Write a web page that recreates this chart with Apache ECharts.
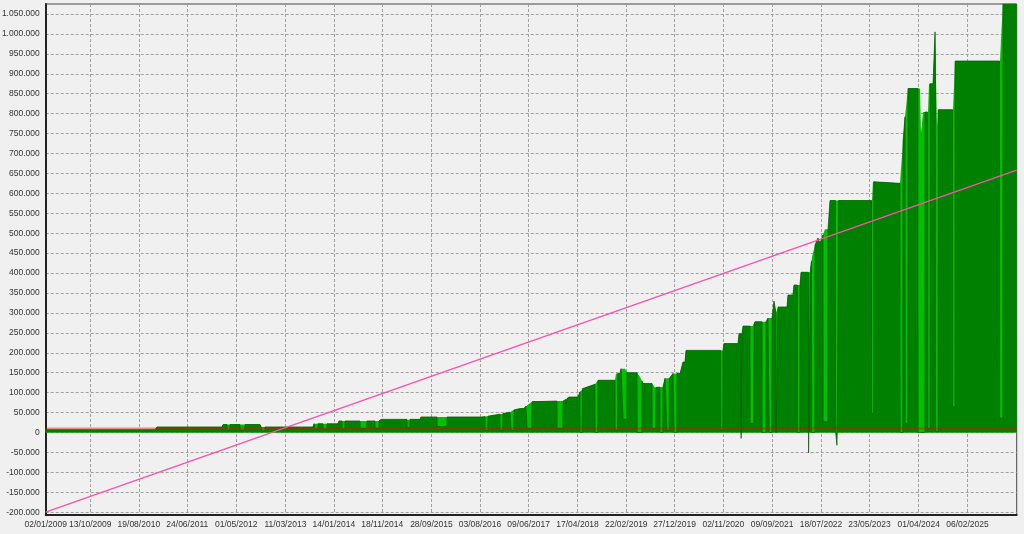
<!DOCTYPE html>
<html><head><meta charset="utf-8">
<script src="https://cdn.jsdelivr.net/npm/echarts@6/dist/echarts.min.js"></script>
<style>html,body{margin:0;padding:0;background:#f0f0f0}#c{width:1024px;height:534px}</style>
</head><body><div id="c"></div>
<script>
// X tick labels (dates)
const xTickLabels = ['02/01/2009','13/10/2009','19/08/2010','24/06/2011','01/05/2012','11/03/2013','14/01/2014','18/11/2014','28/09/2015','03/08/2016','09/06/2017','17/04/2018','22/02/2019','27/12/2019','02/11/2020','09/09/2021','18/07/2022','23/05/2023','01/04/2024','06/02/2025'];
// Y tick values
const yTicks = [-200000,-150000,-100000,-50000,0,50000,100000,150000,200000,250000,300000,350000,400000,450000,500000,550000,600000,650000,700000,750000,800000,850000,900000,950000,1000000,1050000];
const xStart = 2009.0, xEnd = 2025.955;
// Balance (closed) curve: time in decimal years, value
const balanceT = [2009.000,2010.909,2010.943,2012.078,2012.096,2012.742,2012.760,2013.667,2013.685,2014.104,2014.121,2014.837,2014.855,2015.536,2015.553,2016.618,2016.933,2017.107,2017.160,2017.282,2017.351,2017.386,2017.509,2018.051,2018.138,2018.295,2018.329,2018.417,2018.591,2018.644,2018.941,2018.958,2019.028,2019.046,2019.116,2019.151,2019.325,2019.377,2019.430,2019.587,2019.639,2019.779,2019.814,2019.901,2019.953,2020.076,2020.128,2020.163,2020.180,2020.826,2020.843,2021.088,2021.106,2021.158,2021.176,2021.350,2021.385,2021.595,2021.612,2021.682,2021.717,2021.752,2021.787,2021.944,2021.961,2022.048,2022.066,2022.171,2022.189,2022.346,2022.381,2022.433,2022.485,2022.520,2022.607,2022.677,2022.695,2023.428,2023.445,2023.917,2023.970,2024.005,2024.057,2024.266,2024.284,2024.319,2024.406,2024.424,2024.494,2024.529,2024.564,2024.581,2024.843,2024.878,2025.663,2025.716,2025.955];
const balanceV = [7000,7000,14000,14000,20000,20000,14000,14000,22000,22000,29000,29000,33000,33000,39000,39000,46000,51000,56000,60000,60000,66000,79000,79000,89000,89000,102000,112000,121000,131000,131000,148000,148000,160000,160000,150000,150000,140000,123000,123000,113000,114000,136000,136000,148000,148000,177000,177000,206000,206000,223000,223000,248000,248000,267000,267000,278000,278000,287000,287000,330000,300000,315000,315000,345000,345000,370000,370000,402000,402000,440000,470000,488000,475000,510000,510000,582000,582000,629000,625000,729000,792000,863000,863000,751000,804000,804000,875000,875000,1005000,767000,810000,810000,932000,932000,1085000,1085000];
// Equity drawdowns: [start, end, value before, lowest value, value after]
const dips = [
 [2012.166,2012.218,20000,6000,20000],[2012.393,2012.480,20000,6000,20000],[2012.777,2012.829,14000,4000,14000],
 [2013.702,2013.755,22000,8000,22000],[2013.842,2013.912,22000,8000,22000],[2014.174,2014.226,29000,8000,29000],
 [2014.488,2014.610,29000,10000,29000],[2014.750,2014.820,29000,10000,29000],[2015.309,2015.361,33000,12000,33000],
 [2015.833,2016.007,39000,15000,39000],[2016.671,2016.723,40000,5000,41000],[2016.933,2016.985,46000,5000,47500],
 [2017.125,2017.177,52700,5000,56600],[2017.404,2017.491,68000,10000,77000],[2017.928,2018.033,79000,10000,79000],
 [2018.085,2018.102,83000,66000,85000],[2018.329,2018.370,102000,0,110000],[2018.591,2018.644,121000,0,131000],
 [2018.941,2018.990,131000,5000,148000],[2019.080,2019.151,160000,33000,150000],[2019.325,2019.412,150000,0,129000],
 [2019.587,2019.657,123000,10000,113000],[2019.726,2019.779,114000,0,114000],[2019.845,2019.890,136000,5000,136000],
 [2019.971,2020.023,148000,0,148000],[2020.785,2020.826,206000,5000,206000],[2021.141,2021.158,248000,-15000,248000],
 [2021.298,2021.368,267000,23000,272000],[2021.508,2021.578,278000,0,278000],[2021.630,2021.682,287000,0,287000],
 [2021.752,2021.787,300000,0,315000],[2022.125,2022.171,370000,0,370000],[2022.319,2022.354,402000,-51000,411000],
 [2022.372,2022.433,430000,0,470000],[2022.573,2022.660,496000,27000,510000],[2022.790,2022.845,582000,3000,582000],
 [2023.420,2023.460,582000,48000,629000],[2023.917,2023.970,625000,0,729000],[2024.005,2024.057,792000,23000,863000],
 [2024.231,2024.354,863000,0,804000],[2024.400,2024.445,804000,10000,875000],[2024.535,2024.585,950000,3000,810000],
 [2024.835,2024.880,810000,64000,932000],[2025.655,2025.716,932000,36000,1085000]
];
// Short equity spikes inside a drawdown: [time, lowest value, drawdown level around it]
const spikes = [[2022.818,-32000,3000]];
// Linear trend line end values and reference level
const trendValues = [-200000, 658000];
const referenceLevel = 10000;

function toT(s){const p=s.split('/').map(Number);return 2009+(Date.UTC(p[2],p[1]-1,p[0])-Date.UTC(2009,0,2))/86400000/365.25;}
const xTickT = xTickLabels.map(toT);
function fmtNum(v){const s=String(Math.abs(Math.round(v))).replace(/\B(?=(\d{3})+(?!\d))/g,'.');return (v<0?'-':'')+s;}
function xLabel(v){let best=0,bd=1e9;xTickT.forEach((t,i)=>{const d=Math.abs(t-v);if(d<bd){bd=d;best=i;}});return xTickLabels[best];}

const balanceData = balanceT.map((t,i)=>[t,balanceV[i]]);
const equityData = balanceData.filter(p=>!dips.some(d=>p[0]>d[0]&&p[0]<d[1]));
const E=0.002;
dips.forEach(d=>{equityData.push([d[0],d[2]],[d[0]+E,d[3]],[d[1]-E,d[3]],[d[1],d[4]]);});
spikes.forEach(s=>{equityData.push([s[0]-0.004,s[2]],[s[0]-0.002,s[1]],[s[0]+0.002,s[1]],[s[0]+0.004,s[2]]);});
equityData.sort((a,b)=>a[0]-b[0]);

const font = {color:'#333', fontFamily:'"Liberation Sans",Arial,sans-serif', fontSize:8.5};
const split = {show:true, lineStyle:{color:'#a0a0a0', type:[3,2], width:1}};
const chart = echarts.init(document.getElementById('c'));
chart.setOption({
  backgroundColor:'#f0f0f0',
  animation:false,
  grid:{left:45.7, right:7.3, top:4, bottom:19, show:true, backgroundColor:'#f0f0f0', borderColor:'#444', borderWidth:1, containLabel:false, outerBoundsMode:'none'},
  xAxis:{type:'value', min:xStart, max:xEnd,
    axisLine:{show:true, onZero:false, lineStyle:{color:'#222', width:2}},
    axisTick:{show:false, customValues:xTickT},
    axisLabel:Object.assign({customValues:xTickT, formatter:xLabel, margin:5, showMinLabel:true, showMaxLabel:true, hideOverlap:false}, font),
    splitLine:split},
  yAxis:{type:'value', min:-207000, max:1075000,
    axisLine:{show:true, onZero:false, lineStyle:{color:'#222', width:2}},
    axisTick:{show:false, customValues:yTicks},
    axisLabel:Object.assign({customValues:yTicks, formatter:fmtNum, margin:6, hideOverlap:false}, font),
    splitLine:split},
  series:[
    {name:'Balance', type:'line', data:balanceData, showSymbol:false, z:1,
      lineStyle:{width:0, opacity:0}, areaStyle:{color:'#00c000', opacity:1}, itemStyle:{color:'#00c000'}},
    {name:'Equity', type:'line', data:equityData, showSymbol:false, z:2,
      lineStyle:{width:0.7, color:'#005c00'}, areaStyle:{color:'#008000', opacity:1}, itemStyle:{color:'#008000'}},
    {name:'Nivel', type:'line', data:[[xStart,referenceLevel],[xEnd,referenceLevel]], showSymbol:false, z:3,
      lineStyle:{width:2, color:'rgba(255,0,0,0.45)'}},
    {name:'Tendencia', type:'line', data:[[xStart,trendValues[0]],[xEnd,trendValues[1]]], showSymbol:false, z:4,
      lineStyle:{width:1.3, color:'#ff4fa8'}}
  ]
});
</script></body></html>
